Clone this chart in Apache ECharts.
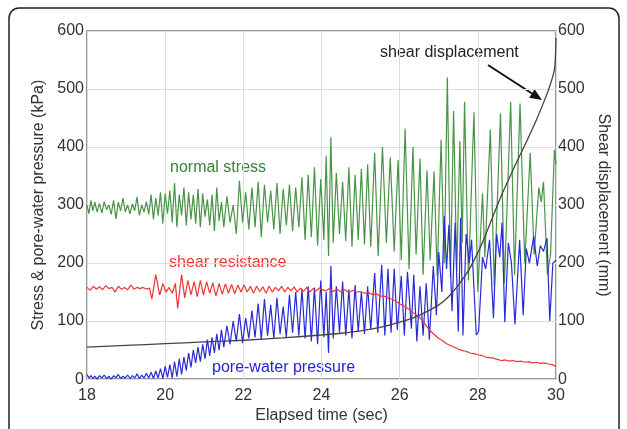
<!DOCTYPE html>
<html>
<head>
<meta charset="utf-8">
<title>Stress, pore-water pressure and shear displacement</title>
<script src="https://cdn.jsdelivr.net/npm/echarts@6/dist/echarts.min.js"></script>
<style>
  html, body { margin: 0; padding: 0; background: #fff; }
  #chart { width: 627px; height: 429px; }
</style>
</head>
<body>
<div id="chart"></div>
<script>
// [time (sec), value]
var normalStress = [
  [18.00, 300], [18.05, 285], [18.10, 308], [18.15, 290], [18.20, 305], [18.26, 288], [18.32, 303], [18.38, 286],
  [18.44, 306], [18.50, 292], [18.56, 300], [18.62, 284], [18.68, 308], [18.74, 276], [18.80, 305], [18.86, 290],
  [18.92, 312], [18.98, 288], [19.04, 300], [19.10, 285], [19.16, 302], [19.22, 290], [19.28, 314], [19.34, 282],
  [19.40, 300], [19.46, 288], [19.52, 306], [19.58, 284],
  [19.64, 318], [19.70, 275], [19.76, 312], [19.82, 282], [19.88, 322], [19.94, 268], [20.00, 320], [20.06, 285],
  [20.12, 325], [20.18, 270], [20.24, 338], [20.30, 262], [20.36, 318], [20.42, 282], [20.48, 330], [20.54, 265],
  [20.60, 322], [20.66, 275], [20.72, 318], [20.78, 268], [20.84, 328], [20.90, 262], [20.96, 320], [21.02, 280],
  [21.08, 310], [21.14, 265], [21.20, 318], [21.26, 255], [21.32, 330], [21.38, 272], [21.44, 305], [21.50, 262],
  [21.58, 315], [21.66, 270], [21.74, 300], [21.82, 250], [21.90, 342], [21.98, 270], [22.06, 322], [22.14, 258],
  [22.22, 330], [22.30, 262], [22.38, 340], [22.46, 245], [22.54, 335], [22.62, 270], [22.70, 325], [22.78, 258],
  [22.86, 338], [22.94, 250], [23.02, 328], [23.10, 265], [23.18, 335], [23.26, 255], [23.34, 330], [23.42, 262],
  [23.50, 348], [23.58, 240],
  [23.66, 352], [23.74, 245], [23.82, 365], [23.90, 230], [23.98, 345], [24.06, 240], [24.12, 385], [24.18, 212],
  [24.24, 417], [24.30, 235], [24.38, 355], [24.46, 250], [24.54, 340],
  [24.62, 238], [24.70, 365], [24.78, 228], [24.86, 352], [24.94, 240], [25.02, 362], [25.10, 232], [25.18, 370],
  [25.26, 228], [25.36, 390], [25.45, 212], [25.56, 400], [25.66, 235], [25.76, 382], [25.86, 220], [25.96, 378],
  [26.04, 205],
  [26.14, 432], [26.24, 190], [26.34, 400], [26.42, 215], [26.52, 380], [26.60, 180], [26.70, 360], [26.78, 205],
  [26.88, 358], [26.96, 178], [27.06, 413], [27.14, 200], [27.22, 520], [27.30, 175], [27.38, 462], [27.46, 185],
  [27.54, 410], [27.60, 235], [27.66, 478], [27.76, 170], [27.90, 460], [28.00, 150],
  [28.12, 320], [28.18, 210], [28.32, 430], [28.42, 160], [28.58, 458], [28.68, 165], [28.84, 478], [28.94, 180],
  [29.08, 475], [29.20, 200], [29.34, 390], [29.44, 215], [29.56, 330], [29.62, 305], [29.68, 340], [29.78, 180],
  [29.86, 215], [29.96, 395], [30.00, 370]
]

var poreWaterPressure = [
  [18.00, 8], [18.05, 2], [18.10, 6], [18.15, 1], [18.20, 5], [18.26, 0], [18.32, 6], [18.38, 2],
  [18.44, 7], [18.50, 1], [18.56, 5], [18.62, 0], [18.68, 6], [18.74, 2], [18.80, 8], [18.86, 1],
  [18.92, 5], [18.98, 2], [19.04, 7], [19.10, 1], [19.16, 6], [19.22, 2], [19.28, 9], [19.34, 1],
  [19.40, 7], [19.46, 2], [19.52, 10], [19.58, 2],
  [19.64, 12], [19.70, 1], [19.76, 14], [19.82, 2], [19.88, 18], [19.94, 1], [20.00, 22], [20.06, 3],
  [20.12, 25], [20.18, 2], [20.24, 30], [20.30, 4], [20.36, 35], [20.42, 8],
  [20.48, 38], [20.54, 15], [20.60, 45], [20.66, 20], [20.72, 50], [20.78, 28], [20.84, 55], [20.90, 30],
  [20.96, 60], [21.02, 35], [21.08, 68], [21.14, 40], [21.20, 72], [21.26, 45], [21.32, 78], [21.38, 50],
  [21.44, 85], [21.50, 55],
  [21.58, 92], [21.66, 60], [21.74, 100], [21.82, 65], [21.90, 112], [21.98, 62], [22.06, 105], [22.14, 70],
  [22.22, 118], [22.30, 72], [22.38, 130], [22.46, 68], [22.54, 138],
  [22.62, 75], [22.70, 128], [22.78, 70], [22.86, 140], [22.94, 78], [23.02, 125], [23.10, 72], [23.18, 145],
  [23.26, 80], [23.34, 150], [23.42, 75], [23.50, 155],
  [23.58, 70], [23.66, 160], [23.74, 65], [23.82, 158], [23.90, 60], [23.98, 170], [24.06, 72], [24.12, 150],
  [24.18, 45], [24.24, 195], [24.30, 70], [24.38, 160], [24.46, 80],
  [24.54, 168], [24.62, 75], [24.70, 155], [24.78, 70], [24.86, 162], [24.94, 82], [25.02, 150], [25.10, 78],
  [25.18, 160], [25.26, 85], [25.36, 183], [25.44, 80],
  [25.54, 197], [25.62, 75], [25.70, 190], [25.78, 80], [25.86, 190], [25.94, 85], [26.04, 178], [26.12, 75],
  [26.20, 185], [26.30, 87], [26.36, 180], [26.44, 65], [26.52, 160], [26.60, 75], [26.68, 165], [26.76, 68],
  [26.86, 195], [26.94, 110], [27.00, 219], [27.08, 150], [27.14, 281], [27.20, 190], [27.26, 266], [27.34, 117],
  [27.42, 270], [27.50, 82],
  [27.56, 278], [27.62, 75], [27.70, 250], [27.78, 200], [27.84, 240], [27.96, 76],
  [28.02, 82], [28.12, 210], [28.20, 190], [28.30, 240], [28.40, 105], [28.48, 250], [28.56, 210], [28.62, 270],
  [28.69, 98], [28.78, 235], [28.86, 200], [28.95, 94], [29.07, 240],
  [29.16, 110], [29.24, 225], [29.32, 200], [29.43, 246], [29.52, 195], [29.60, 230], [29.68, 220], [29.77, 243],
  [29.84, 100], [29.92, 200], [30.00, 205]
]

var shearResistance = [
  [18.00, 158], [18.08, 153], [18.16, 160], [18.24, 155], [18.32, 159], [18.40, 154], [18.48, 161], [18.56, 156],
  [18.64, 158], [18.72, 150], [18.80, 160], [18.88, 155], [18.96, 158], [19.04, 154], [19.12, 162], [19.20, 155],
  [19.28, 158], [19.36, 156], [19.44, 158], [19.52, 155], [19.60, 157],
  [19.66, 138], [19.76, 180], [19.86, 145], [19.94, 165], [20.02, 150], [20.10, 158], [20.18, 148], [20.26, 165],
  [20.32, 122], [20.42, 180], [20.50, 140],
  [20.58, 170], [20.66, 145], [20.74, 168], [20.82, 142], [20.90, 170], [20.98, 145], [21.06, 168], [21.14, 148],
  [21.22, 166], [21.30, 143], [21.38, 165], [21.46, 146], [21.54, 164], [21.62, 148], [21.70, 163], [21.78, 147],
  [21.86, 162], [21.94, 150],
  [22.02, 162], [22.10, 150], [22.18, 160], [22.26, 148], [22.34, 160], [22.42, 151], [22.50, 159], [22.58, 148],
  [22.66, 160], [22.74, 150], [22.82, 158], [22.90, 152], [22.98, 160], [23.06, 150], [23.14, 158], [23.22, 152],
  [23.30, 159], [23.38, 150], [23.46, 157], [23.54, 151], [23.62, 158], [23.70, 150], [23.78, 156], [23.86, 152],
  [23.94, 157],
  [24.10, 152], [24.20, 156], [24.30, 151], [24.40, 155], [24.50, 150], [24.60, 154], [24.70, 149], [24.80, 153],
  [24.90, 150], [25.00, 151], [25.10, 148], [25.20, 149],
  [25.30, 146], [25.40, 147], [25.50, 143], [25.60, 143], [25.70, 140], [25.80, 138], [25.90, 134], [26.00, 130],
  [26.10, 126], [26.20, 122], [26.30, 117], [26.40, 112], [26.50, 107], [26.60, 100], [26.70, 90], [26.80, 82],
  [26.90, 76], [27.00, 70], [27.10, 66], [27.20, 61], [27.30, 58], [27.40, 55], [27.50, 52], [27.60, 49],
  [27.70, 48], [27.80, 45], [27.90, 44], [28.00, 42], [28.10, 41], [28.20, 38], [28.30, 37], [28.40, 36],
  [28.50, 34], [28.60, 32], [28.70, 33], [28.80, 31], [28.90, 32], [29.00, 30], [29.10, 31], [29.20, 29],
  [29.30, 30], [29.40, 28], [29.50, 29], [29.60, 27], [29.70, 28], [29.80, 26], [29.90, 25], [30.00, 22]
]

// mm, right axis
var shearDisplacement = [
  [18.0, 55], [19.0, 58], [20.0, 61], [21.0, 64], [22.0, 67], [23.0, 71], [24.0, 76], [24.5, 79],
  [25.0, 83], [25.5, 89], [26.0, 98], [26.5, 110], [27.0, 128], [27.25, 142], [27.5, 162], [27.75, 186],
  [28.0, 218], [28.2, 249], [28.4, 283], [28.6, 316], [28.8, 346], [29.0, 375], [29.25, 410], [29.5, 447],
  [29.72, 483], [29.85, 507], [29.95, 530], [29.98, 548], [30.0, 588]
]

var fontFamily = '"Liberation Sans", Arial, Helvetica, sans-serif'

var chart = echarts.init(document.getElementById('chart'))

var option = {
  animation: false,
  backgroundColor: '#fff',
  grid: {
    left: 87,
    right: 71,
    top: 31,
    bottom: 48,
    show: true,
    borderColor: '#777',
    borderWidth: 1.5
  },
  xAxis: {
    type: 'value',
    min: 18,
    max: 30,
    interval: 2,
    name: 'Elapsed time (sec)',
    nameLocation: 'middle',
    nameGap: 28,
    nameTextStyle: { fontSize: 16, color: '#333', fontFamily: fontFamily },
    axisLine: { show: false },
    axisTick: { show: false },
    axisLabel: { fontSize: 16, color: '#333', margin: 8, fontFamily: fontFamily },
    splitLine: { show: true, lineStyle: { color: '#ddd', width: 1 } }
  },
  yAxis: [
    {
      type: 'value',
      min: 0,
      max: 600,
      interval: 100,
      name: 'Stress & pore-water pressure (kPa)',
      nameLocation: 'middle',
      nameRotate: 90,
      nameGap: 37,
      nameTextStyle: { fontSize: 16, color: '#333', fontFamily: fontFamily },
      axisLine: { show: false },
      axisTick: { show: false },
      axisLabel: { fontSize: 16, color: '#333', margin: 3, fontFamily: fontFamily },
      splitLine: { show: true, lineStyle: { color: '#ddd', width: 1 } }
    },
    {
      type: 'value',
      position: 'right',
      min: 0,
      max: 600,
      interval: 100,
      name: 'Shear displacement (mm)',
      nameLocation: 'middle',
      nameRotate: -90,
      nameGap: 38,
      nameTextStyle: { fontSize: 16, color: '#333', fontFamily: fontFamily },
      axisLine: { show: false },
      axisTick: { show: false },
      axisLabel: { fontSize: 16, color: '#333', margin: 2, fontFamily: fontFamily },
      splitLine: { show: false }
    }
  ],
  series: [
    {
      name: 'normal stress',
      type: 'line',
      data: normalStress,
      showSymbol: false,
      lineStyle: { color: '#4a944a', width: 1.2 }
    },
    {
      name: 'pore-water pressure',
      type: 'line',
      data: poreWaterPressure,
      showSymbol: false,
      lineStyle: { color: '#2a2ad8', width: 1.2 }
    },
    {
      name: 'shear resistance',
      type: 'line',
      data: shearResistance,
      showSymbol: false,
      lineStyle: { color: '#f03535', width: 1.2 }
    },
    {
      name: 'shear displacement',
      type: 'line',
      yAxisIndex: 1,
      data: shearDisplacement,
      showSymbol: false,
      smooth: 0.3,
      lineStyle: { color: '#444', width: 1.3 }
    }
  ],
  graphic: [
    // rounded frame around the figure
    {
      type: 'rect',
      shape: { x: 9, y: 8, width: 610, height: 440, r: 10 },
      style: { fill: 'none', stroke: '#222', lineWidth: 1.5 },
      silent: true
    },
    { type: 'text', x: 170, y: 168, style: { text: 'normal stress', fill: '#3a803a', font: '16px ' + fontFamily, verticalAlign: 'middle' } },
    { type: 'text', x: 169, y: 263, style: { text: 'shear resistance', fill: '#f03535', font: '16px ' + fontFamily, verticalAlign: 'middle' } },
    { type: 'text', x: 212, y: 368, style: { text: 'pore-water pressure', fill: '#2424dc', font: '16px ' + fontFamily, verticalAlign: 'middle' } },
    { type: 'text', x: 380, y: 53, style: { text: 'shear displacement', fill: '#222', font: '16px ' + fontFamily, verticalAlign: 'middle' } },
    // arrow to the displacement curve
    {
      type: 'line',
      shape: { x1: 488, y1: 65, x2: 532, y2: 93.5 },
      style: { stroke: '#111', lineWidth: 2 }
    },
    {
      type: 'polygon',
      shape: { points: [[542, 100], [529.2, 97.7], [534.6, 89.3]] },
      style: { fill: '#111' }
    }
  ]
}

chart.setOption(option)
</script>
</body>
</html>
